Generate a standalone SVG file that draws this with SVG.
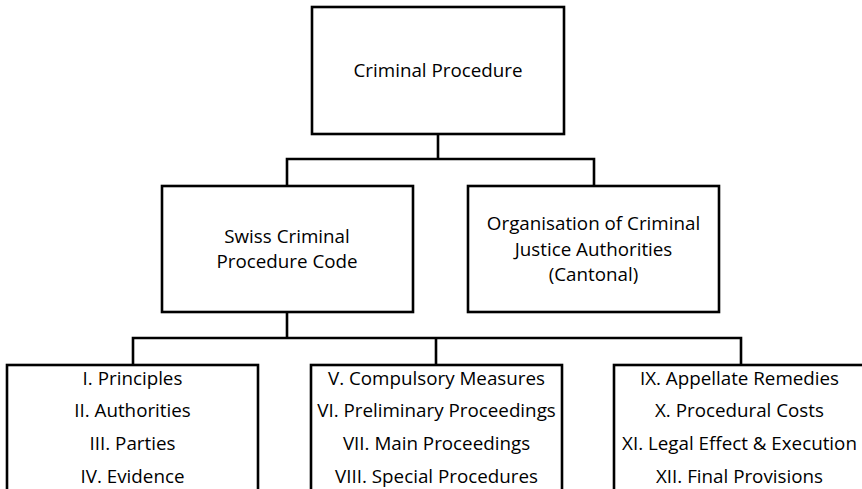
<svg xmlns="http://www.w3.org/2000/svg" width="862" height="489" viewBox="0 0 862 489">
<style>
.box{fill:#fff;stroke:#000;stroke-width:2.6}
.con{fill:none;stroke:#000;stroke-width:2.6}
text{font-family:"Open Sans","Liberation Sans",sans-serif;font-size:18.8px;fill:#000;text-anchor:middle}
</style>
<rect width="862" height="489" fill="#fff"/>
<g id="connectors">
<path class="con" d="M438 134 V159 M287 186 V159 H594 V186"/>
<path class="con" d="M287 312 V338 M133 365 V338 H741 V365 M436 338 V365"/>
</g>
<g id="criminal-procedure">
<rect class="box" x="312" y="7" width="252" height="127"/>
<text x="438" y="77">Criminal Procedure</text>
</g>
<g id="swiss-code">
<rect class="box" x="162" y="186" width="251" height="126"/>
<text x="287" y="242.6">Swiss Criminal</text>
<text x="287" y="268.4">Procedure Code</text>
</g>
<g id="organisation">
<rect class="box" x="468" y="186" width="251" height="126"/>
<text x="593.5" y="229.8">Organisation of Criminal</text>
<text x="593.5" y="255.6">Justice Authorities</text>
<text x="593.5" y="281.4">(Cantonal)</text>
</g>
<g id="parts-1">
<rect class="box" x="7" y="365" width="251" height="140"/>
<text x="132.5" y="385">I. Principles</text>
<text x="132.5" y="417">II. Authorities</text>
<text x="132.5" y="450">III. Parties</text>
<text x="132.5" y="483">IV. Evidence</text>
</g>
<g id="parts-2">
<rect class="box" x="311" y="365" width="251" height="140"/>
<text x="436.5" y="385">V. Compulsory Measures</text>
<text x="436.5" y="417">VI. Preliminary Proceedings</text>
<text x="436.5" y="450">VII. Main Proceedings</text>
<text x="436.5" y="483">VIII. Special Procedures</text>
</g>
<g id="parts-3">
<rect class="box" x="614" y="365" width="251" height="140"/>
<text x="739.5" y="385">IX. Appellate Remedies</text>
<text x="739.5" y="417">X. Procedural Costs</text>
<text x="739.5" y="450">XI. Legal Effect &amp; Execution</text>
<text x="739.5" y="483">XII. Final Provisions</text>
</g>
</svg>
